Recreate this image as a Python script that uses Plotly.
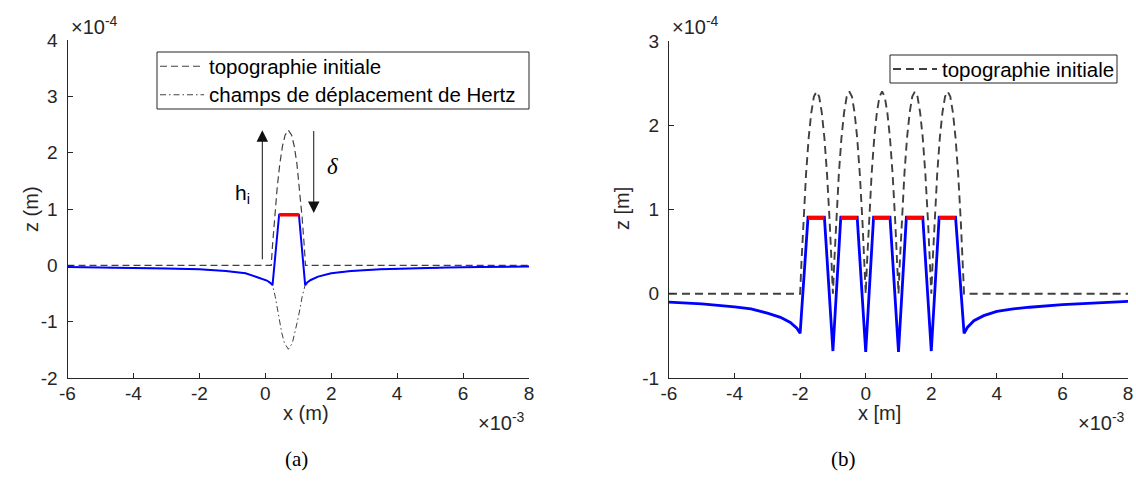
import plotly.graph_objects as go

# ---------------- data (x in 1e-3 m, z in 1e-4 m) ----------------
# (a) single asperity
topo_a_x = [-6, 0.18, 0.22, 0.28, 0.36, 0.44, 0.52, 0.60, 0.70, 0.80, 0.88, 0.96, 1.04, 1.12, 1.18, 1.22, 8]
topo_a_z = [0, 0, 0.36, 0.83, 1.37, 1.80, 2.11, 2.31, 2.40, 2.31, 2.11, 1.80, 1.37, 0.83, 0.36, 0, 0]

hertz_a_x = [-6, -5, -4, -3, -2, -1.2, -0.6, -0.2, 0.05, 0.15, 0.22, 0.30, 0.36, 0.42, 0.50, 0.58,
             0.70, 0.82, 0.90, 0.98, 1.05, 1.12, 1.21, 1.28, 1.38, 1.6, 2.0, 2.6, 3.5, 4.5, 5.5, 6.5, 8]
hertz_a_z = [-0.03, -0.035, -0.045, -0.055, -0.07, -0.10, -0.14, -0.22, -0.27, -0.31, -0.35, -0.55, -0.75,
             -0.96, -1.20, -1.38, -1.49, -1.38, -1.20, -0.98, -0.78, -0.55, -0.35, -0.30, -0.26, -0.20,
             -0.14, -0.10, -0.07, -0.05, -0.04, -0.03, -0.02]

surf_a_x = [-6, -5, -4, -3, -2, -1.2, -0.6, -0.2, 0.05, 0.15, 0.22, 0.42, 1.02, 1.21, 1.28, 1.38,
            1.6, 2.0, 2.6, 3.5, 4.5, 5.5, 6.5, 8]
surf_a_z = [-0.03, -0.035, -0.045, -0.055, -0.07, -0.10, -0.14, -0.22, -0.27, -0.31, -0.35, 0.90, 0.90,
            -0.35, -0.30, -0.26, -0.20, -0.14, -0.10, -0.07, -0.05, -0.04, -0.03, -0.02]

contact_a_x = [0.42, 1.02]
contact_a_z = [0.90, 0.90]

# (b) five asperities
topo_b_x = [-6,
            -2.0, -1.96, -1.9, -1.82, -1.74, -1.66, -1.58, -1.5, -1.42, -1.34, -1.26, -1.18, -1.1, -1.04, -1.0,
            -1.0, -0.96, -0.9, -0.82, -0.74, -0.66, -0.58, -0.5, -0.42, -0.34, -0.26, -0.18, -0.1, -0.04, 0.0,
            0.0, 0.04, 0.1, 0.18, 0.26, 0.34, 0.42, 0.5, 0.58, 0.66, 0.74, 0.82, 0.9, 0.96, 1.0,
            1.0, 1.04, 1.1, 1.18, 1.26, 1.34, 1.42, 1.5, 1.58, 1.66, 1.74, 1.82, 1.9, 1.96, 2.0,
            2.0, 2.04, 2.1, 2.18, 2.26, 2.34, 2.42, 2.5, 2.58, 2.66, 2.74, 2.82, 2.9, 2.96, 3.0,
            8]
topo_b_z = [0,
            0, 0.37, 0.86, 1.42, 1.85, 2.15, 2.34, 2.4, 2.34, 2.15, 1.85, 1.42, 0.86, 0.37, 0,
            0, 0.37, 0.86, 1.42, 1.85, 2.15, 2.34, 2.4, 2.34, 2.15, 1.85, 1.42, 0.86, 0.37, 0,
            0, 0.37, 0.86, 1.42, 1.85, 2.15, 2.34, 2.4, 2.34, 2.15, 1.85, 1.42, 0.86, 0.37, 0,
            0, 0.37, 0.86, 1.42, 1.85, 2.15, 2.34, 2.4, 2.34, 2.15, 1.85, 1.42, 0.86, 0.37, 0,
            0, 0.37, 0.86, 1.42, 1.85, 2.15, 2.34, 2.4, 2.34, 2.15, 1.85, 1.42, 0.86, 0.37, 0,
            0]

surf_b_x = [-6, -5, -4, -3.5, -3, -2.6, -2.3, -2.1, -2.0, -1.76, -1.26, -1.0, -0.76, -0.26, 0.0, 0.24,
            0.74, 1.0, 1.24, 1.74, 2.0, 2.24, 2.74, 3.0, 3.1, 3.3, 3.6, 4.0, 4.5, 5, 6, 7, 8]
surf_b_z = [-0.10, -0.12, -0.155, -0.18, -0.23, -0.28, -0.34, -0.41, -0.47, 0.91, 0.91, -0.68, 0.91,
            0.91, -0.69, 0.91, 0.91, -0.69, 0.91, 0.91, -0.68, 0.91, 0.91, -0.47, -0.40, -0.32, -0.26,
            -0.21, -0.18, -0.16, -0.13, -0.11, -0.09]

contact_b_x = [-1.76, -1.26, None, -0.76, -0.26, None, 0.24, 0.74, None, 1.24, 1.74, None, 2.24, 2.74]
contact_b_z = [0.90, 0.90, None, 0.90, 0.90, None, 0.90, 0.90, None, 0.90, 0.90, None, 0.90, 0.90]

x_ticks = [-6, -4, -2, 0, 2, 4, 6, 8]
ya_ticks = [-2, -1, 0, 1, 2, 3, 4]
yb_ticks = [-1, 0, 1, 2, 3]

legend_a_labels = ["topographie initiale", "champs de déplacement de Hertz"]
legend_b_labels = ["topographie initiale"]

# ---------------- styling ----------------
W, H = 1136, 490
INK = "#262626"
SANS = "Liberation Sans, Arial, sans-serif"
SERIF = "Liberation Serif, Times New Roman, serif"
TICK_SIZE = 19
LEG_SIZE = 20.5

DASH_A = dict(color="#404040", width=1.2, dash="7px,4px")
DASHDOT_A = dict(color="#404040", width=1.0, dash="6px,3px,1.5px,3px")
DASH_B = dict(color="#404040", width=1.9, dash="8px,5px")

def px_x(p):
    return p / W

def px_y(p):
    return 1 - p / H

fig = go.Figure()

# (a)
fig.add_trace(go.Scatter(x=topo_a_x, y=topo_a_z, mode="lines", name=legend_a_labels[0],
                         line=DASH_A, showlegend=False, xaxis="x", yaxis="y"))
fig.add_trace(go.Scatter(x=hertz_a_x, y=hertz_a_z, mode="lines", name=legend_a_labels[1],
                         line=DASHDOT_A, showlegend=False, xaxis="x", yaxis="y"))
fig.add_trace(go.Scatter(x=surf_a_x, y=surf_a_z, mode="lines", showlegend=False,
                         line=dict(color="#0000FF", width=2), xaxis="x", yaxis="y"))
fig.add_trace(go.Scatter(x=contact_a_x, y=contact_a_z, mode="lines", showlegend=False,
                         line=dict(color="#FF0000", width=3.5), xaxis="x", yaxis="y"))

# (b)
fig.add_trace(go.Scatter(x=topo_b_x, y=topo_b_z, mode="lines", name=legend_b_labels[0],
                         line=DASH_B, showlegend=False, xaxis="x2", yaxis="y2"))
fig.add_trace(go.Scatter(x=surf_b_x, y=surf_b_z, mode="lines", showlegend=False,
                         line=dict(color="#0000FF", width=2.8), xaxis="x2", yaxis="y2"))
fig.add_trace(go.Scatter(x=contact_b_x, y=contact_b_z, mode="lines", showlegend=False,
                         line=dict(color="#FF0000", width=4), xaxis="x2", yaxis="y2"))

axis_common = dict(showline=True, linecolor=INK, linewidth=1, mirror=False, ticks="inside",
                   ticklen=5, tickcolor=INK, tickwidth=1, showgrid=False, zeroline=False,
                   automargin=False, ticklabeloverflow="allow",
                   tickfont=dict(family=SANS, size=TICK_SIZE, color=INK), fixedrange=True)

fig.update_layout(
    template="none",
    width=W, height=H,
    margin=dict(l=0, r=0, t=0, b=0, pad=0, autoexpand=False),
    paper_bgcolor="white", plot_bgcolor="white",
    showlegend=False,
    xaxis=dict(domain=[px_x(67.5), px_x(529)], range=[-6, 8], tickvals=x_ticks,
               ticktext=[str(v) for v in x_ticks], anchor="y", ticklabelstandoff=-2, **axis_common),
    yaxis=dict(domain=[px_y(378), px_y(40)], range=[-2, 4], tickvals=ya_ticks,
               ticktext=[str(v) for v in ya_ticks], anchor="x", ticklabelstandoff=5, **axis_common),
    xaxis2=dict(domain=[px_x(669), px_x(1128)], range=[-6, 8], tickvals=x_ticks,
                ticktext=[str(v) for v in x_ticks], anchor="y2", ticklabelstandoff=-2, **axis_common),
    yaxis2=dict(domain=[px_y(378), px_y(41)], range=[-1, 3], tickvals=yb_ticks,
                ticktext=[str(v) for v in yb_ticks], anchor="x2", ticklabelstandoff=5, **axis_common),
)

# ---- legends drawn as boxed samples + text ----
shapes = []
ann = []

def add_legend(x0, y0, x1, y1, labels, styles):
    shapes.append(dict(type="rect", xref="paper", yref="paper", x0=px_x(x0), x1=px_x(x1),
                       y0=px_y(y1), y1=px_y(y0), line=dict(color=INK, width=1),
                       fillcolor="white", layer="above"))
    n = len(labels)
    row = (y1 - y0) / n
    for i, (lab, st) in enumerate(zip(labels, styles)):
        yc = y0 + row * (i + 0.5)
        shapes.append(dict(type="line", xref="paper", yref="paper", x0=px_x(x0 + 3), x1=px_x(x0 + 47),
                           y0=px_y(yc), y1=px_y(yc), line=st, layer="above"))
        ann.append(dict(text=lab, x=px_x(x0 + 50), y=px_y(yc), xref="paper", yref="paper",
                        xanchor="left", yanchor="middle", showarrow=False,
                        font=dict(family=SANS, size=LEG_SIZE, color="black")))

add_legend(157, 52, 529, 109, legend_a_labels, [DASH_A, DASHDOT_A])
add_legend(890, 55, 1117, 83, legend_b_labels, [DASH_B])

# axis titles & exponents
ann.append(dict(text="x (m)", x=px_x(281), y=px_y(426), xref="paper", yref="paper",
                showarrow=False, font=dict(family=SANS, size=20, color=INK)))
ann.append(dict(text="x [m]", x=px_x(903), y=px_y(426), xref="paper", yref="paper",
                showarrow=False, font=dict(family=SANS, size=20, color=INK)))
ann.append(dict(text="z (m)", x=px_x(18), y=px_y(209), xref="paper", yref="paper", textangle=-90,
                showarrow=False, font=dict(family=SANS, size=20, color=INK)))
ann.append(dict(text="z [m]", x=px_x(622), y=px_y(209), xref="paper", yref="paper", textangle=-90,
                showarrow=False, font=dict(family=SANS, size=20, color=INK)))
for xl in (69, 670):
    ann.append(dict(text="×10<sup>-4</sup>", x=px_x(xl), y=px_y(40), xref="paper", yref="paper",
                    xanchor="left", yanchor="bottom", showarrow=False,
                    font=dict(family=SANS, size=20, color=INK)))
for xr in (527, 1127):
    ann.append(dict(text="×10<sup>-3</sup>", x=px_x(xr), y=px_y(421), xref="paper", yref="paper",
                    xanchor="right", yanchor="middle", showarrow=False,
                    font=dict(family=SANS, size=20, color=INK)))
ann.append(dict(text="(a)", x=px_x(283), y=px_y(473), xref="paper", yref="paper",
                showarrow=False, font=dict(family=SERIF, size=21, color="black")))
ann.append(dict(text="(b)", x=px_x(858), y=px_y(473), xref="paper", yref="paper",
                showarrow=False, font=dict(family=SERIF, size=21, color="black")))
# arrows (a)
ann.append(dict(x=-0.09, y=2.40, ax=-0.09, ay=0.08, xref="x", yref="y", axref="x", ayref="y",
                showarrow=True, arrowhead=2, arrowsize=2.3, arrowwidth=1, arrowcolor="#111111", text=""))
ann.append(dict(x=1.47, y=0.93, ax=1.47, ay=2.41, xref="x", yref="y", axref="x", ayref="y",
                showarrow=True, arrowhead=2, arrowsize=2.3, arrowwidth=1, arrowcolor="#111111", text=""))
ann.append(dict(text="h<sub>i</sub>", x=-0.69, y=1.27, xref="x", yref="y", showarrow=False,
                font=dict(family=SANS, size=21, color="black")))
ann.append(dict(text="<i>δ</i>", x=2.03, y=1.75, xref="x", yref="y", showarrow=False,
                font=dict(family=SERIF, size=23, color="black")))

fig.update_layout(shapes=shapes, annotations=ann)

# remove the browser's default 8px page margin so the figure sits at the window origin
fig.write_html("out.html",
               config={"displayModeBar": False, "staticPlot": True},
               post_script="document.body.style.margin='0px';document.body.style.padding='0px';")
